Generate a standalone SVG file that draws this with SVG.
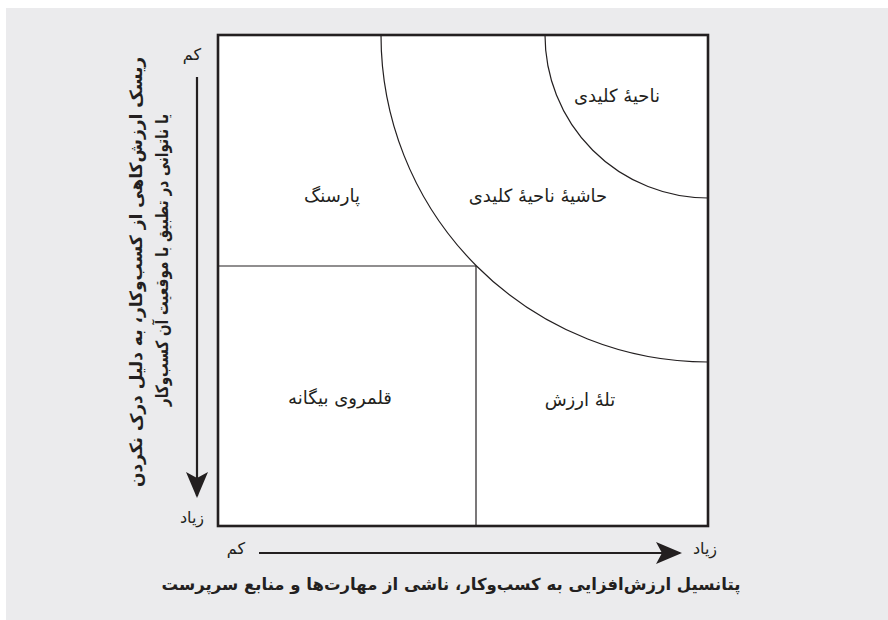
<svg xmlns="http://www.w3.org/2000/svg" width="888" height="620" viewBox="0 0 888 620">
<defs>
<style>
text{font-family:"DejaVu Sans","Noto Sans",sans-serif;fill:#231f20;direction:rtl}
.lbl{font-size:18px;text-anchor:middle}
.ax{font-size:16px;text-anchor:middle}
.ttl{font-size:16.5px;font-weight:bold;text-anchor:middle}
.vt{font-size:17px}
.thin{fill:none;stroke:#231f20;stroke-width:1.2}
.axis{stroke:#231f20;stroke-width:2.2;fill:none}
</style>
<marker id="ah" markerWidth="26" markerHeight="22" refX="24" refY="11" orient="auto" markerUnits="userSpaceOnUse">
<path d="M0,0 L26,11 L0,22 L6,11 Z" fill="#231f20"/>
</marker>
</defs>
<rect x="6" y="8" width="882" height="612" fill="#ebebed"/>
<g id="box">
<rect x="218" y="35" width="490" height="491" fill="#ffffff"/>
</g>
<g id="connectors">
<line class="thin" x1="218" y1="266" x2="476" y2="266"/>
<line class="thin" x1="476" y1="266" x2="476" y2="526"/>
<path class="thin" d="M381,35 A327,327 0 0 0 708,362"/>
<path class="thin" d="M545,35 A163,163 0 0 0 708,198"/>
<line class="axis" x1="197" y1="77" x2="197" y2="496" marker-end="url(#ah)"/>
<line class="axis" x1="259" y1="553" x2="680" y2="553" marker-end="url(#ah)"/>
</g>
<rect x="218" y="35" width="490" height="491" fill="none" stroke="#231f20" stroke-width="2.6"/>
<g id="key-area"><text class="lbl" x="617" y="102">ناحیهٔ کلیدی</text></g>
<g id="key-margin"><text class="lbl" x="538" y="202">حاشیهٔ ناحیهٔ کلیدی</text></g>
<g id="counterweight"><text class="lbl" x="332" y="202">پارسنگ</text></g>
<g id="alien-territory"><text class="lbl" x="340" y="404">قلمروی بیگانه</text></g>
<g id="value-trap"><text class="lbl" x="580" y="406">تلهٔ ارزش</text></g>
<g id="y-axis">
<text class="ax" x="192" y="60">کم</text>
<text class="ax" x="192" y="523">زیاد</text>
<text class="ttl vt" transform="translate(142,272) rotate(-90)">ریسک ارزش‌کاهی از کسب‌وکار، به دلیل درک نکردن</text>
<text class="ttl vt" transform="translate(168,260) rotate(-90) scale(0.8,1)">یا ناتوانی در تطبیق با موقعیت آن کسب‌وکار</text>
</g>
<g id="x-axis">
<text class="ax" x="236" y="554">کم</text>
<text class="ax" x="705" y="554">زیاد</text>
<text class="ttl" x="451" y="590">پتانسیل ارزش‌افزایی به کسب‌وکار، ناشی از مهارت‌ها و منابع سرپرست</text>
</g>
</svg>
